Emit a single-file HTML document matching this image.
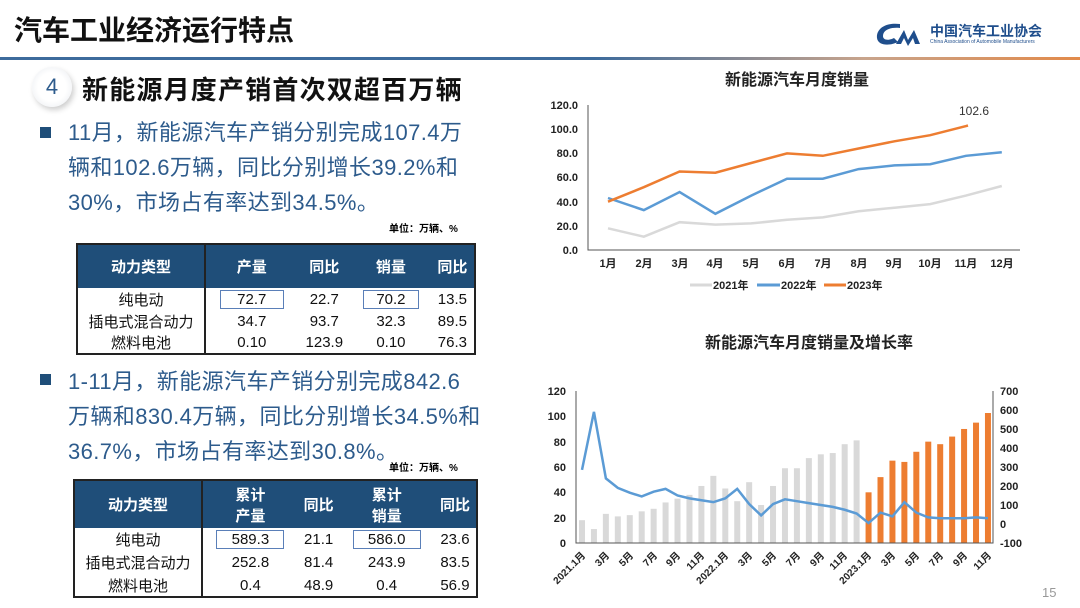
<!DOCTYPE html>
<html><head><meta charset="utf-8">
<style>
body{margin:0;width:1080px;height:608px;background:#fff;overflow:hidden;position:relative;font-family:"Liberation Sans","Noto Sans CJK SC",sans-serif;}
.abs{position:absolute;white-space:nowrap}
.t{color:#2d5b8c;font-size:22px;line-height:35px;letter-spacing:0.4px}
table{border-collapse:collapse;position:absolute;font-size:15px;color:#111;text-align:center}
th{background:#1f4e79;color:#fff;font-weight:bold;font-size:15px}
td,th{padding:0}
.bx{display:inline-block;border:1px solid #5a7fb8;}
</style></head><body>
<div class="abs" style="left:14px;top:9px;font-size:28px;font-weight:bold;color:#111;">汽车工业经济运行特点</div>
<div class="abs" style="left:0;top:57px;width:1080px;height:3px;background:linear-gradient(90deg,#3d6b9c 0%,#3d6b9c 55%,#c8a48c 80%,#e28a4a 100%)"></div>
<svg class="abs" style="left:874px;top:20px" width="50" height="28"><path d="M26 4 C10 2 2 10 3 18 C4 26 16 26 24 22 L20 18 C14 21 9 20 9 16 C9 10 16 7 26 8Z" fill="#1f4e8c"/><path d="M22 24 L30 10 L34 20 L40 10 L46 24 L41 24 L39 18 L34 26 L30 18 L27 24Z" fill="#1f4e8c"/></svg>
<div class="abs" style="left:930px;top:21px;font-size:14px;font-weight:bold;color:#1f4e8c">中国汽车工业协会</div>
<div class="abs" style="left:930px;top:39px;font-size:5px;color:#1f4e8c">China Association of Automobile Manufacturers</div>

<div class="abs" style="left:32px;top:67px;width:40px;height:40px;border-radius:50%;background:radial-gradient(#fff 50%,#e6e9ee);box-shadow:2px 3px 6px rgba(0,0,0,.2);text-align:center;line-height:40px;font-size:22px;color:#2d5b8c">4</div>
<div class="abs" style="left:82px;top:70px;font-size:26px;font-weight:bold;color:#111;letter-spacing:1.2px">新能源月度产销首次双超百万辆</div>

<div class="abs" style="left:40px;top:127px;width:11px;height:11px;background:#1f4e79"></div>
<div class="abs t" style="left:68px;top:115px">11月，新能源汽车产销分别完成107.4万<br>辆和102.6万辆，同比分别增长39.2%和<br>30%，市场占有率达到34.5%。</div>
<div class="abs" style="left:389px;top:220px;font-size:10px;font-weight:bold">单位：万辆、%</div>

<table style="left:76px;top:243px;width:400px;border:2px solid #222">
<tr style="height:44px"><th style="width:126px;border-right:2px solid #222">动力类型</th><th>产量</th><th>同比</th><th>销量</th><th>同比</th></tr>
<tr style="height:22px"><td style="border-right:2px solid #222">纯电动</td><td><span class="bx" style="width:62px">72.7</span></td><td>22.7</td><td><span class="bx" style="width:54px">70.2</span></td><td>13.5</td></tr>
<tr style="height:22px"><td style="border-right:2px solid #222">插电式混合动力</td><td>34.7</td><td>93.7</td><td>32.3</td><td>89.5</td></tr>
<tr style="height:22px"><td style="border-right:2px solid #222">燃料电池</td><td>0.10</td><td>123.9</td><td>0.10</td><td>76.3</td></tr>
</table>

<div class="abs" style="left:40px;top:374px;width:11px;height:11px;background:#1f4e79"></div>
<div class="abs t" style="left:68px;top:364px">1-11月，新能源汽车产销分别完成842.6<br>万辆和830.4万辆，同比分别增长34.5%和<br>36.7%，市场占有率达到30.8%。</div>
<div class="abs" style="left:389px;top:459px;font-size:10px;font-weight:bold">单位：万辆、%</div>

<table style="left:73px;top:479px;width:405px;border:2px solid #222">
<tr style="height:48px"><th style="width:126px;border-right:2px solid #222">动力类型</th><th>累计<br>产量</th><th>同比</th><th>累计<br>销量</th><th>同比</th></tr>
<tr style="height:23px"><td style="border-right:2px solid #222">纯电动</td><td><span class="bx" style="width:66px">589.3</span></td><td>21.1</td><td><span class="bx" style="width:66px">586.0</span></td><td>23.6</td></tr>
<tr style="height:23px"><td style="border-right:2px solid #222">插电式混合动力</td><td>252.8</td><td>81.4</td><td>243.9</td><td>83.5</td></tr>
<tr style="height:23px"><td style="border-right:2px solid #222">燃料电池</td><td>0.4</td><td>48.9</td><td>0.4</td><td>56.9</td></tr>
</table>

<svg class="abs" style="left:0;top:0" width="1080" height="608" font-family="Liberation Sans,Noto Sans CJK SC,sans-serif">
<text x="797" y="85" font-size="16" font-weight="bold" text-anchor="middle" fill="#222">新能源汽车月度销量</text>
<g font-size="11" font-weight="bold" fill="#222" text-anchor="end">
<text x="578" y="109">120.0</text><text x="578" y="133">100.0</text><text x="578" y="157">80.0</text><text x="578" y="181">60.0</text><text x="578" y="206">40.0</text><text x="578" y="230">20.0</text><text x="578" y="254">0.0</text></g>
<path d="M588 105 V250 H1020" stroke="#555" fill="none"/>
<g font-size="11" font-weight="bold" fill="#222" text-anchor="middle">
<text x="608" y="267">1月</text><text x="644" y="267">2月</text><text x="680" y="267">3月</text><text x="715" y="267">4月</text><text x="751" y="267">5月</text><text x="787" y="267">6月</text><text x="823" y="267">7月</text><text x="859" y="267">8月</text><text x="894" y="267">9月</text><text x="930" y="267">10月</text><text x="966" y="267">11月</text><text x="1002" y="267">12月</text></g>
<polyline fill="none" stroke="#d9d9d9" stroke-width="2.5" points="608,228.3 643.8,236.7 679.6,222.2 715.4,224.6 751.2,223.4 787,219.8 822.8,217.4 858.6,211.3 894.4,207.7 930.2,204.1 966,195.6 1001.8,186"/>
<polyline fill="none" stroke="#5b9bd5" stroke-width="2.5" points="608,198 643.8,210.1 679.6,192 715.4,213.8 751.2,195.6 787,178.7 822.8,178.7 858.6,169.1 894.4,165.4 930.2,164.2 966,155.8 1001.8,152.2"/>
<polyline fill="none" stroke="#ed7d31" stroke-width="2.5" points="608,201.7 643.8,187.2 679.6,171.5 715.4,172.7 751.2,163 787,153.4 822.8,155.8 858.6,148.5 894.4,141.3 930.2,135.2 966,126.1 968,125.5"/>
<text x="974" y="115" font-size="12" fill="#333" text-anchor="middle">102.6</text>
<g font-size="11" font-weight="bold" fill="#222">
<line x1="690" y1="285" x2="712" y2="285" stroke="#d9d9d9" stroke-width="3"/><text x="713" y="289">2021年</text>
<line x1="757" y1="285" x2="780" y2="285" stroke="#5b9bd5" stroke-width="3"/><text x="781" y="289">2022年</text>
<line x1="824" y1="285" x2="846" y2="285" stroke="#ed7d31" stroke-width="3"/><text x="847" y="289">2023年</text></g>

<text x="809" y="348" font-size="16" font-weight="bold" text-anchor="middle" fill="#222">新能源汽车月度销量及增长率</text>
<g font-size="11" font-weight="bold" fill="#222" text-anchor="end">
<text x="566" y="395">120</text><text x="566" y="420">100</text><text x="566" y="446">80</text><text x="566" y="471">60</text><text x="566" y="496">40</text><text x="566" y="522">20</text><text x="566" y="547">0</text></g>
<g font-size="11" font-weight="bold" fill="#222">
<text x="1000" y="395">700</text><text x="1000" y="414">600</text><text x="1000" y="433">500</text><text x="1000" y="452">400</text><text x="1000" y="471">300</text><text x="1000" y="490">200</text><text x="1000" y="509">100</text><text x="1000" y="528">0</text><text x="1000" y="547">-100</text></g>
<g id="bars"></g>
<path d="M576 391 V543 H993 V391" stroke="#555" fill="none"/>
<polyline id="gl" fill="none" stroke="#5b9bd5" stroke-width="2.5"/>
<g font-size="10" font-weight="bold" fill="#222" text-anchor="end">
<g transform="translate(586,556) rotate(-45)"><text>2021.1月</text></g>
<g transform="translate(610,556) rotate(-45)"><text>3月</text></g>
<g transform="translate(634,556) rotate(-45)"><text>5月</text></g>
<g transform="translate(658,556) rotate(-45)"><text>7月</text></g>
<g transform="translate(681,556) rotate(-45)"><text>9月</text></g>
<g transform="translate(705,556) rotate(-45)"><text>11月</text></g>
<g transform="translate(729,556) rotate(-45)"><text>2022.1月</text></g>
<g transform="translate(753,556) rotate(-45)"><text>3月</text></g>
<g transform="translate(777,556) rotate(-45)"><text>5月</text></g>
<g transform="translate(801,556) rotate(-45)"><text>7月</text></g>
<g transform="translate(825,556) rotate(-45)"><text>9月</text></g>
<g transform="translate(848,556) rotate(-45)"><text>11月</text></g>
<g transform="translate(872,556) rotate(-45)"><text>2023.1月</text></g>
<g transform="translate(896,556) rotate(-45)"><text>3月</text></g>
<g transform="translate(920,556) rotate(-45)"><text>5月</text></g>
<g transform="translate(944,556) rotate(-45)"><text>7月</text></g>
<g transform="translate(968,556) rotate(-45)"><text>9月</text></g>
<g transform="translate(992,556) rotate(-45)"><text>11月</text></g>
</g>
<text x="1042" y="597" font-size="13" fill="#999">15</text>
</svg>
<script>
var v=[18,11,23,21,22,25,27,32,35,38,45,53,43,33,48,30,45,59,59,67,70,71,78,81,40,52,65,64,72,80,78,84,90,95,102.6];
var g=[285,590,240,190,165,145,170,185,150,135,125,115,135,185,105,45,105,130,120,110,100,90,75,55,5,60,40,115,60,35,30,30,30,35,30];
var s='',p=[];
for(var i=0;i<35;i++){var x=582+11.94*i,h=1.267*v[i];
s+='<rect x="'+(x-3)+'" y="'+(543-h)+'" width="6" height="'+h+'" fill="'+(i>=24?'#ed7d31':'#d9d9d9')+'"/>';
p.push(x+','+(524-0.19*g[i]));}
document.getElementById('bars').innerHTML=s;
document.getElementById('gl').setAttribute('points',p.join(' '));
</script>
</body></html>
